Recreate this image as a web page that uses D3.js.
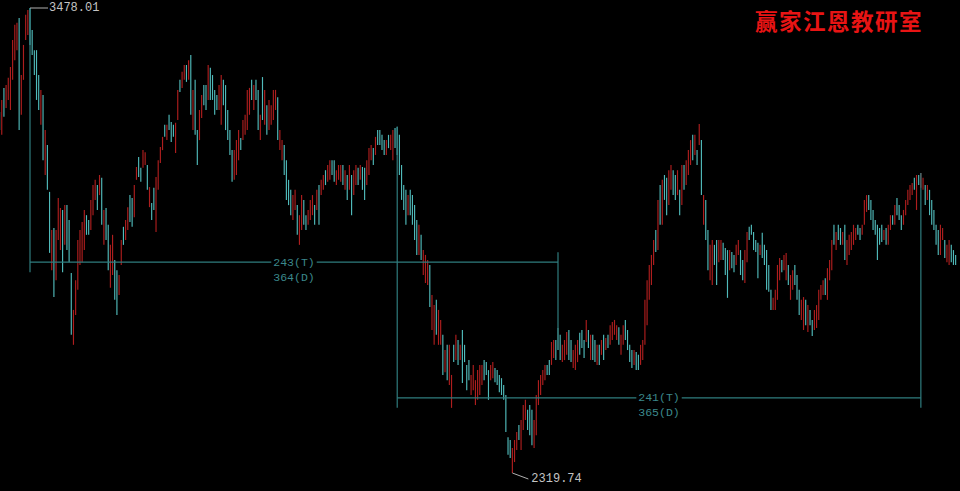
<!DOCTYPE html>
<html>
<head>
<meta charset="utf-8">
<script src="https://cdn.jsdelivr.net/npm/d3@7/dist/d3.min.js"></script>
<style>
html,body{margin:0;padding:0;background:#000;overflow:hidden;}
svg{display:block;}
</style>
</head>
<body>
<script>
// ---- data (daily bars, index order) ----
const highs = [
3219,3249,3279,3286,3304,3331,3398,3436,3441,3453,
3311,3386,3461,3473,3478.01,3423,3373,3373,3311,3274,
3261,3174,3137,3020,2925,2930,2925,3005,2980,2975,
2987,2987,2950,2818,2726,2800,2900,2925,2945,2975,
2962,2950,3000,3037,3050,3037,3062,3055,2975,2980,
2938,2888,2913,2850,2825,2813,2900,2933,2950,2982,
3012,3005,3037,3082,3107,3080,3124,3119,3087,3032,
2992,3030,3057,3099,3132,3157,3187,3187,3212,3194,
3187,3192,3274,3299,3319,3336,3336,3348,3361,3274,
3299,3174,3224,3261,3286,3286,3336,3329,3311,3274,
3261,3286,3311,3299,3286,3224,3174,3124,3124,3149,
3174,3154,3199,3212,3274,3279,3299,3286,3299,3274,
3212,3306,3274,3236,3249,3236,3274,3274,3256,3174,
3149,3137,3099,3050,3025,3012,3025,2987,2962,3012,
3000,2962,2975,3000,3012,2987,3025,3037,3050,3062,
3074,3087,3099,3099,3099,3074,3087,3087,3087,3074,
3062,3087,3062,3074,3087,3080,3087,3082,3080,3099,
3129,3137,3129,3157,3174,3174,3162,3149,3149,3162,
3162,3174,3179,3182,3162,3087,3037,3025,3012,3025,
3012,2987,2950,2938,2913,2875,2863,2850,2838,2763,
2738,2751,2726,2701,2664,2626,2639,2639,2564,2639,
2664,2651,2639,2676,2639,2589,2601,2564,2589,2551,
2576,2589,2589,2601,2596,2576,2589,2596,2581,2576,
2564,2556,2539,2514,2409,2402,2382,2402,2422,2439,
2452,2489,2502,2477,2489,2477,2452,2514,2551,2564,
2576,2589,2589,2601,2646,2651,2651,2681,2664,2639,
2651,2671,2676,2651,2626,2639,2651,2669,2676,2651,
2701,2676,2664,2664,2651,2639,2639,2651,2664,2656,
2664,2688,2696,2701,2688,2683,2664,2688,2701,2676,
2639,2626,2626,2621,2614,2639,2651,2751,2800,2838,
2863,2900,2925,3000,3037,3050,3062,3055,3074,3087,
3074,3062,3074,3025,3087,3087,3099,3124,3149,3162,
3162,3124,3189,3149,3012,3000,2925,2888,2900,2888,
2900,2900,2900,2893,2880,2875,2875,2870,2863,2888,
2900,2875,2850,2875,2920,2933,2938,2920,2900,2893,
2888,2918,2888,2875,2838,2776,2756,2776,2838,2855,
2850,2863,2868,2838,2813,2825,2838,2813,2776,2751,
2758,2751,2738,2726,2701,2726,2738,2776,2788,2800,
2805,2830,2850,2900,2938,2920,2938,2930,2920,2938,
2900,2913,2920,2938,2930,2938,2930,2938,3000,3012,
3012,3000,2975,2950,2938,2930,2938,2925,2930,2938,
2962,2962,2987,3005,2987,2962,2975,3000,3025,3037,
3042,3055,3062,3062,3067,3055,3037,3037,3025,3000,
2975,2938,2925,2938,2930,2900,2888,2900,2888,2875,2863
];
const lows = [
3174,3162,3207,3229,3249,3224,3299,3348,3373,3174,
3212,3299,3398,3411,3386,3361,3311,3249,3224,3187,
3099,3062,3025,2868,2825,2758,2800,2900,2875,2820,
2888,2875,2845,2664,2639,2713,2776,2838,2845,2875,
2913,2913,2925,2962,3000,2975,3012,2938,2888,2900,
2825,2781,2813,2751,2713,2763,2838,2888,2900,2925,
2945,2933,2957,3050,3057,3045,3080,3087,3025,2982,
2950,2975,2920,3025,3092,3124,3157,3149,3174,3144,
3157,3117,3199,3269,3279,3299,3294,3299,3212,3174,
3162,3087,3149,3204,3236,3224,3249,3249,3249,3212,
3224,3224,3187,3236,3174,3149,3112,3045,3050,3062,
3099,3124,3149,3162,3174,3212,3249,3224,3249,3174,
3149,3199,3187,3162,3174,3187,3199,3224,3149,3124,
3099,3062,3000,2987,2962,2950,2975,2913,2888,2925,
2938,2925,2938,2950,2962,2938,2975,2938,3012,3025,
3037,3045,3050,3062,3045,3037,3050,3045,3037,3025,
3000,3025,2962,3012,3037,3037,3050,3025,3000,3037,
3062,3099,3087,3112,3137,3137,3124,3112,3112,3129,
3124,3099,3129,3112,3062,3000,2975,2938,2962,2962,
2938,2900,2863,2863,2850,2813,2793,2788,2733,2676,
2639,2664,2639,2639,2564,2571,2551,2539,2482,2596,
2601,2589,2601,2544,2596,2526,2551,2514,2526,2489,
2502,2514,2539,2551,2564,2502,2551,2556,2546,2539,
2521,2514,2502,2422,2365,2357,2319.74,2347,2377,2402,
2377,2427,2452,2427,2414,2389,2382,2414,2489,2514,
2539,2551,2564,2564,2589,2606,2601,2626,2601,2596,
2601,2614,2601,2596,2581,2576,2596,2614,2631,2606,
2646,2631,2601,2601,2596,2589,2589,2614,2601,2626,
2631,2639,2651,2664,2651,2639,2614,2639,2651,2626,
2596,2581,2589,2576,2576,2589,2601,2639,2688,2751,
2788,2838,2870,2875,2938,2938,3000,2962,2987,3025,
3012,3000,3012,2962,2987,3025,3037,3062,3087,3099,
3112,3087,3137,3012,2938,2900,2825,2800,2788,2838,
2788,2845,2850,2850,2813,2756,2825,2830,2820,2838,
2863,2813,2800,2793,2845,2900,2913,2875,2870,2805,
2863,2855,2838,2776,2771,2726,2726,2726,2751,2800,
2820,2825,2800,2788,2751,2776,2788,2751,2713,2701,
2676,2688,2671,2688,2661,2676,2681,2701,2751,2763,
2763,2751,2800,2825,2888,2875,2900,2888,2888,2850,
2838,2863,2875,2888,2900,2913,2900,2913,2938,2970,
2975,2950,2925,2913,2850,2888,2895,2900,2888,2888,
2925,2938,2938,2962,2950,2925,2938,2962,2987,3000,
3012,3025,2975,3037,3030,3025,2987,3000,2962,2938,
2925,2888,2863,2863,2900,2855,2845,2838,2845,2838,2838
];
// r = up day (red), c = down day (cyan)
const barColor = (
"crcrrrrrrc"+"rrrrcccccr"+"crccrcrrrc"+"rcccrrrrrr"+"ccrrrcrcrc"+
"crrccrrcrr"+"ccrrccrrcr"+"ccrrrrcrcc"+"crrcrrcrcr"+"ccrrccrccc"+
"crrcccccrr"+"rcrrrrcrcc"+"rcrcrrrrcr"+"rccccrrcrr"+"ccrrrcrcrr"+
"crrccrrrcr"+"crcrrcrccr"+"rrcrccccrc"+"rrccccccrc"+"cccrcrrrcr"+
"rcrrcrcrrc"+"rcrccccrrr"+"rrrcccrrcc"+"ccccccrrrc"+"rrrcccrrrr"+
"rrccrrcccr"+"rrccrrrccc"+"rcrccrcrcr"+"crrrrcrrcc"+"ccrccrrrrr"+
"rrcrcrccrr"+"ccrcrcrrrc"+"rcrcrccrrc"+"crrcccrccr"+"rccrrccccc"+
"rcccccrrrr"+"crrcrrcccr"+"rcrccrrrrr"+"crrrcrccrc"+"rrrrrccrrr"+
"cccccccrcr"+"rcrcccrrrr"+"rcrcrrcrcc"+"cccrrcrrccc").split("");

// time-span measurements: bar index pairs, level price, trading days (T), calendar days (D)
const spanFrom   = [14, 183];
const spanTo     = [257, 424];
const spanLevel  = [2845, 2507];
const spanT      = [243, 241];
const spanD      = [364, 365];
const titleText  = "赢家江恩教研室";

// ---- drawing ----
const W = 960, H = 491;
const svg = d3.select("body").append("svg").attr("width", W).attr("height", H)
  .style("background", "#000");

const n = highs.length;
const x = d3.scaleLinear().domain([14, 257]).range([30, 558]);
const y = d3.scaleLinear().domain([2319.74, 3478.01]).range([473, 8]);

const bars = d3.range(n).map(i => ({i, h: highs[i], l: lows[i], up: barColor[i] === "r"}));

svg.append("g").selectAll("line").data(bars).join("line")
  .attr("x1", d => x(d.i)).attr("x2", d => x(d.i))
  .attr("y1", d => y(d.h)).attr("y2", d => y(d.l))
  .attr("stroke", d => d.up ? "#ae1e1e" : "#50baba")
  .attr("stroke-width", 1.15);

// measurement annotations
const lineCol = "#2f7c7e", txtCol = "#3b888b";
const ann = svg.append("g");
spanFrom.forEach((a, k) => {
  const b = spanTo[k];
  const ly = y(spanLevel[k]);
  const xa = x(a), xb = x(b);
  [a, b].forEach(idx => {
    const py = y(highs[idx]);
    const end = py < ly ? ly + 10 : ly - 10;
    ann.append("line").attr("x1", x(idx)).attr("x2", x(idx))
      .attr("y1", py).attr("y2", end)
      .attr("stroke", lineCol).attr("stroke-width", 1.2);
  });
  ann.append("line").attr("x1", xa).attr("x2", xb).attr("y1", ly).attr("y2", ly)
    .attr("stroke", lineCol).attr("stroke-width", 1.2);
  const mx = (xa + xb) / 2;
  const t1 = spanT[k] + "(T)";
  const tw = t1.length * 6.9;
  ann.append("rect").attr("x", mx - tw / 2 - 2).attr("y", ly - 3).attr("width", tw + 4).attr("height", 6)
    .attr("fill", "#000");
  ann.append("text").attr("x", mx).attr("y", ly).attr("text-anchor", "middle")
    .attr("dominant-baseline", "central")
    .attr("font-family", "Liberation Mono, DejaVu Sans Mono, monospace").attr("font-size", 11.5)
    .attr("fill", txtCol).text(t1);
  ann.append("text").attr("x", mx).attr("y", ly + 15).attr("text-anchor", "middle")
    .attr("dominant-baseline", "central")
    .attr("font-family", "Liberation Mono, DejaVu Sans Mono, monospace").attr("font-size", 11.5)
    .attr("fill", txtCol).text(spanD[k] + "(D)");
});

// extreme labels
const iMax = d3.maxIndex(highs), iMin = d3.minIndex(lows);
const lab = svg.append("g").attr("font-family", "Liberation Mono, DejaVu Sans Mono, monospace")
  .attr("font-size", 12).attr("fill", "#c4c4c4");
const pxM = x(iMax), pyM = y(highs[iMax]);
lab.append("line").attr("x1", pxM).attr("x2", pxM + 18).attr("y1", pyM).attr("y2", pyM)
  .attr("stroke", "#b0b0b0").attr("stroke-width", 1);
lab.append("text").attr("x", pxM + 19).attr("y", pyM).attr("dominant-baseline", "central")
  .text(d3.format(".2f")(highs[iMax]));
const pxm = x(iMin), pym = y(lows[iMin]);
lab.append("line").attr("x1", pxm).attr("x2", pxm + 16).attr("y1", pym).attr("y2", pym + 6)
  .attr("stroke", "#b0b0b0").attr("stroke-width", 1);
lab.append("text").attr("x", pxm + 19).attr("y", pym + 6).attr("dominant-baseline", "central")
  .text(d3.format(".2f")(lows[iMin]));

// title
svg.append("text").attr("x", 755).attr("y", 20).attr("dominant-baseline", "central")
  .attr("font-family", "Noto Sans CJK SC, sans-serif").attr("font-weight", "bold")
  .attr("font-size", 22.5).attr("fill", "#e81414").attr("letter-spacing", 1.5)
  .text(titleText);
</script>
</body>
</html>
